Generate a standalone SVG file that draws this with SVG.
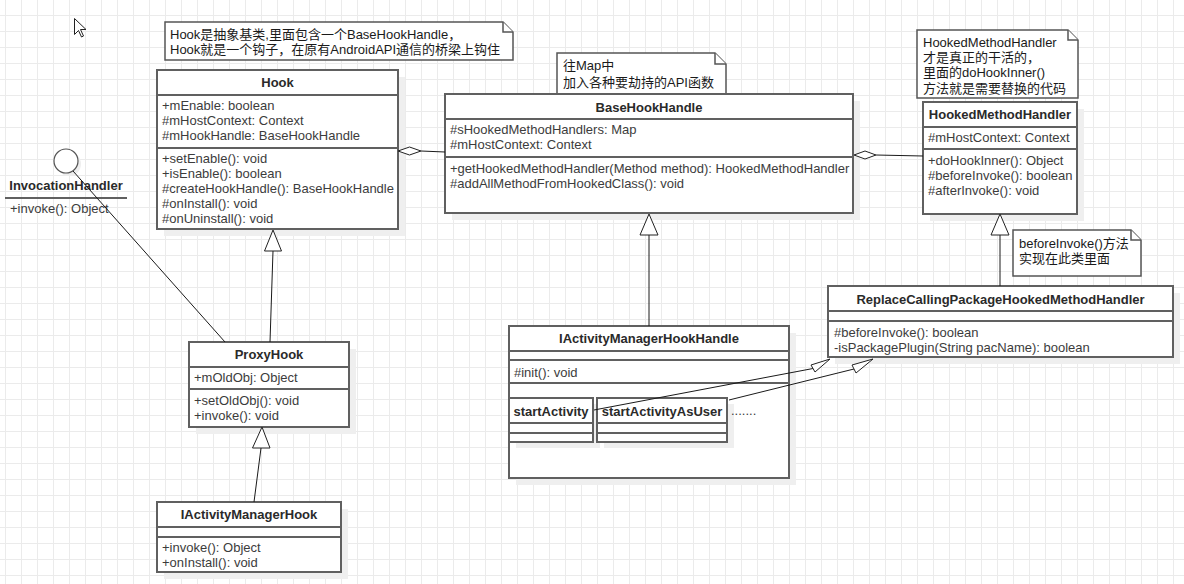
<svg xmlns="http://www.w3.org/2000/svg" width="1184" height="584" viewBox="0 0 1184 584">
<defs>
<pattern id="grid" x="5" y="15" width="16" height="16" patternUnits="userSpaceOnUse">
<path d="M0 0.5 H16 M0.5 0 V16" stroke="#ebebeb" stroke-width="1" fill="none"/>
</pattern>
<style>
.box{fill:#fff;stroke:#606060;stroke-width:2}
.sh{fill:#efefef}
.dv{stroke:#606060;stroke-width:2}
.t{font-family:"Liberation Sans","Noto Sans CJK SC",sans-serif;font-size:13px;fill:#3c3c3c}
.b{font-weight:bold;text-anchor:middle;fill:#2a2a2a}
.n{fill:#1a1a1a}
.note{fill:#fff;stroke:#555;stroke-width:1.5}
.ln{stroke:#1a1a1a;stroke-width:1;fill:none}
.tri{fill:#fff;stroke:#222;stroke-width:1}
</style>
</defs>
<rect width="1184" height="584" fill="#fff"/>
<rect width="1184" height="584" fill="url(#grid)"/>

<!-- cursor -->
<path d="M74.5,18.5 V34.5 L78.5,30.5 L81.5,37 L83.5,36 L80.5,29.5 H86 Z" fill="#fff" stroke="#222" stroke-width="1"/>

<!-- notes -->
<g id="note-hook">
<path class="note" d="M165,22 H503 L513,32 V60 H165 Z"/>
<path class="note" d="M503,22 V32 H513" fill="none"/>
<text class="t n" x="170" y="38.5">Hook是抽象基类,里面包含一个BaseHookHandle，</text>
<text class="t n" x="170" y="53.5">Hook就是一个钩子，在原有AndroidAPI通信的桥梁上钩住</text>
</g>
<g id="note-map">
<path class="note" d="M557,53 H715 L726,64 V94 H557 Z"/>
<path class="note" d="M715,53 V64 H726" fill="none"/>
<text class="t n" x="563" y="69.5">往Map中</text>
<text class="t n" x="563" y="86.5">加入各种要劫持的API函数</text>
</g>
<g id="note-hmh">
<path class="note" d="M917,30 H1068 L1078,40 V98 H917 Z"/>
<path class="note" d="M1068,30 V40 H1078" fill="none"/>
<text class="t n" x="923" y="47">HookedMethodHandler</text>
<text class="t n" x="923" y="62">才是真正的干活的，</text>
<text class="t n" x="923" y="77">里面的doHookInner()</text>
<text class="t n" x="923" y="92.5">方法就是需要替换的代码</text>
</g>
<g id="note-before">
<path class="note" d="M1013,230 H1131 L1141,240 V276 H1013 Z"/>
<path class="note" d="M1131,230 V240 H1141" fill="none"/>
<text class="t n" x="1019" y="247.5">beforeInvoke()方法</text>
<text class="t n" x="1019" y="262.5">实现在此类里面</text>
</g>

<!-- InvocationHandler interface -->
<g id="InvocationHandler">
<circle cx="69" cy="164" r="12" fill="#eeeeee"/>
<circle cx="66" cy="161" r="12" fill="#fff" stroke="#555" stroke-width="1.2"/>
<text class="t b" x="66" y="190">InvocationHandler</text>
<line class="dv" x1="5" y1="198" x2="127" y2="198"/>
<text class="t" x="10" y="213">+invoke(): Object</text>
</g>

<!-- Hook -->
<g id="Hook">
<rect class="sh" x="164" y="77" width="241" height="159"/>
<rect class="box" x="157" y="70" width="241" height="159"/>
<line class="dv" x1="157" y1="95" x2="398" y2="95"/>
<line class="dv" x1="157" y1="148" x2="398" y2="148"/>
<text class="t b" x="277.5" y="87">Hook</text>
<text class="t" x="162" y="110">+mEnable: boolean</text>
<text class="t" x="162" y="125">#mHostContext: Context</text>
<text class="t" x="162" y="140">#mHookHandle: BaseHookHandle</text>
<text class="t" x="162" y="163">+setEnable(): void</text>
<text class="t" x="162" y="178">+isEnable(): boolean</text>
<text class="t" x="162" y="193">#createHookHandle(): BaseHookHandle</text>
<text class="t" x="162" y="208">#onInstall(): void</text>
<text class="t" x="162" y="223">#onUninstall(): void</text>
</g>

<!-- BaseHookHandle -->
<g id="BaseHookHandle">
<rect class="sh" x="452" y="101" width="408" height="119"/>
<rect class="box" x="445" y="94" width="408" height="119"/>
<line class="dv" x1="445" y1="119" x2="853" y2="119"/>
<line class="dv" x1="445" y1="157" x2="853" y2="157"/>
<text class="t b" x="649" y="111.5">BaseHookHandle</text>
<text class="t" x="450" y="134">#sHookedMethodHandlers: Map</text>
<text class="t" x="450" y="149">#mHostContext: Context</text>
<text class="t" x="450" y="172.5">+getHookedMethodHandler(Method method): HookedMethodHandler</text>
<text class="t" x="450" y="187.5">#addAllMethodFromHookedClass(): void</text>
</g>

<!-- HookedMethodHandler -->
<g id="HookedMethodHandler">
<rect class="sh" x="930" y="109" width="154" height="112"/>
<rect class="box" x="923" y="102" width="154" height="112"/>
<line class="dv" x1="923" y1="127" x2="1077" y2="127"/>
<line class="dv" x1="923" y1="149" x2="1077" y2="149"/>
<text class="t b" x="1000" y="119">HookedMethodHandler</text>
<text class="t" x="928" y="142">#mHostContext: Context</text>
<text class="t" x="928" y="165">+doHookInner(): Object</text>
<text class="t" x="928" y="180">#beforeInvoke(): boolean</text>
<text class="t" x="928" y="195">#afterInvoke(): void</text>
</g>

<!-- ProxyHook -->
<g id="ProxyHook">
<rect class="sh" x="196" y="349" width="160" height="85"/>
<rect class="box" x="189" y="342" width="160" height="85"/>
<line class="dv" x1="189" y1="367" x2="349" y2="367"/>
<line class="dv" x1="189" y1="389" x2="349" y2="389"/>
<text class="t b" x="269" y="359">ProxyHook</text>
<text class="t" x="194" y="382">+mOldObj: Object</text>
<text class="t" x="194" y="404.5">+setOldObj(): void</text>
<text class="t" x="194" y="419.5">+invoke(): void</text>
</g>

<!-- IActivityManagerHook -->
<g id="IActivityManagerHook">
<rect class="sh" x="164" y="509" width="184" height="70"/>
<rect class="box" x="157" y="502" width="184" height="70"/>
<line class="dv" x1="157" y1="527" x2="341" y2="527"/>
<line class="dv" x1="157" y1="537" x2="341" y2="537"/>
<text class="t b" x="249" y="519">IActivityManagerHook</text>
<text class="t" x="162" y="552">+invoke(): Object</text>
<text class="t" x="162" y="567">+onInstall(): void</text>
</g>

<!-- IActivityManagerHookHandle -->
<g id="IActivityManagerHookHandle">
<rect class="sh" x="516" y="333" width="280" height="152"/>
<rect class="box" x="509" y="326" width="280" height="152"/>
<line class="dv" x1="509" y1="351" x2="789" y2="351"/>
<line class="dv" x1="509" y1="360" x2="789" y2="360"/>
<line class="dv" x1="509" y1="383" x2="789" y2="383"/>
<text class="t b" x="649" y="343">IActivityManagerHookHandle</text>
<text class="t" x="514" y="376.5">#init(): void</text>
</g>

<g id="startActivity">
<rect class="sh" x="516" y="404" width="84" height="44"/>
<rect class="box" x="509" y="398" width="84" height="44"/>
<line class="dv" x1="509" y1="423" x2="593" y2="423"/>
<line class="dv" x1="509" y1="433" x2="593" y2="433"/>
<text class="t b" x="551" y="415.5">startActivity</text>
</g>

<g id="startActivityAsUser">
<rect class="sh" x="604" y="404" width="130" height="44"/>
<rect class="box" x="597" y="398" width="130" height="44"/>
<line class="dv" x1="597" y1="423" x2="727" y2="423"/>
<line class="dv" x1="597" y1="433" x2="727" y2="433"/>
<text class="t b" x="662" y="415.5">startActivityAsUser</text>
<text class="t" x="731" y="415">.......</text>
</g>

<!-- ReplaceCallingPackageHookedMethodHandler -->
<g id="ReplaceCallingPackageHookedMethodHandler">
<rect class="sh" x="835" y="293" width="345" height="71"/>
<rect class="box" x="828" y="286" width="345" height="71"/>
<line class="dv" x1="828" y1="311" x2="1173" y2="311"/>
<line class="dv" x1="828" y1="321" x2="1173" y2="321"/>
<text class="t b" x="1000.5" y="303.5">ReplaceCallingPackageHookedMethodHandler</text>
<text class="t" x="834" y="336.5">#beforeInvoke(): boolean</text>
<text class="t" x="834" y="351.5">-isPackagePlugin(String pacName): boolean</text>
</g>

<!-- connectors -->
<g id="connectors">
<line class="ln" x1="73" y1="171" x2="225" y2="342"/>
<line class="ln" x1="421" y1="151" x2="445" y2="152"/>
<polygon class="tri" points="398,151 409.5,147 421,151 409.5,155"/>
<line class="ln" x1="876" y1="155" x2="923" y2="156"/>
<polygon class="tri" points="854,155 865,151 876,155 865,159"/>
<line class="ln" x1="273" y1="251" x2="270" y2="342"/>
<polygon class="tri" points="273,230 264.5,251 281.5,251"/>
<line class="ln" x1="261" y1="448" x2="254" y2="502"/>
<polygon class="tri" points="262,427 252.5,448 270,448"/>
<line class="ln" x1="649" y1="235" x2="649" y2="326"/>
<polygon class="tri" points="649,214 640,235 658,235"/>
<line class="ln" x1="1000" y1="235" x2="1000" y2="286"/>
<polygon class="tri" points="1000,214 991,235 1009,235"/>
<line class="ln" x1="594" y1="410" x2="813" y2="368.5"/>
<polygon class="tri" points="830,359 811,365 815,372"/>
<line class="ln" x1="729" y1="400" x2="854" y2="369"/>
<polygon class="tri" points="873,359 852,365 856,373"/>
</g>
</svg>
